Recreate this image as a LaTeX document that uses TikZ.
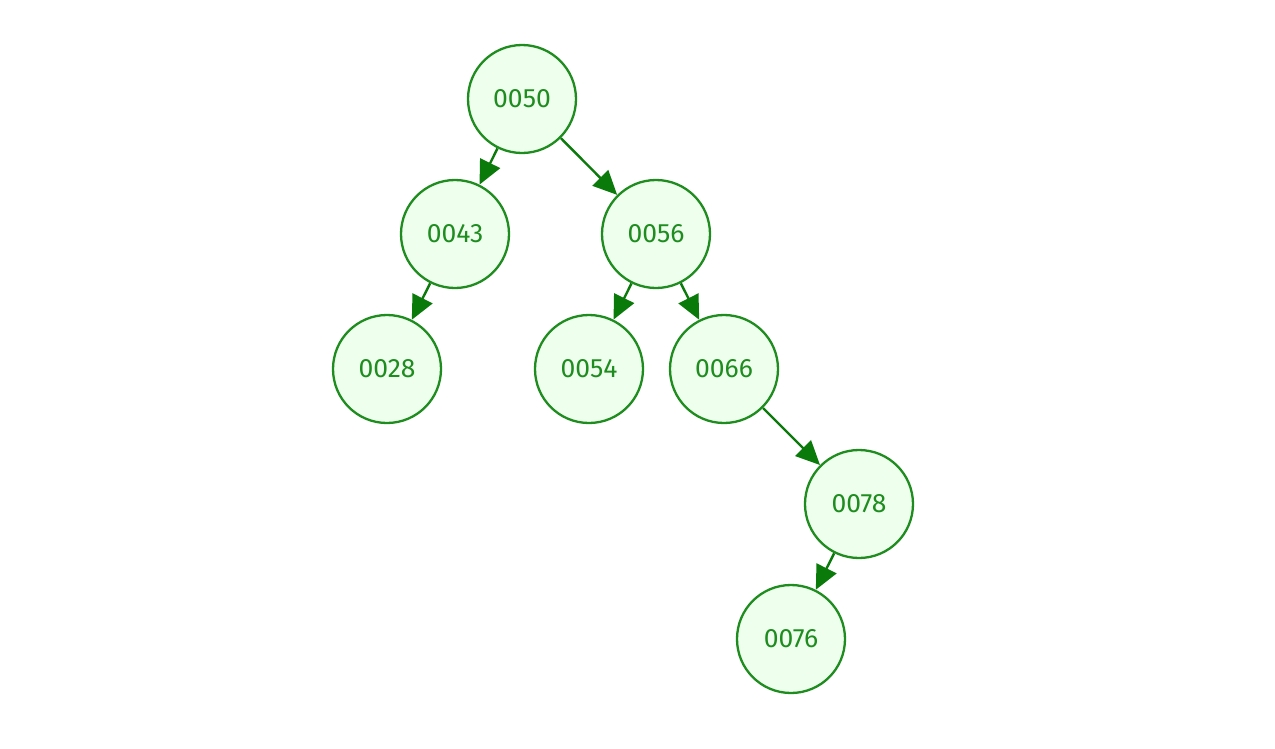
\documentclass[tikz,border=0pt]{standalone}
\usepackage{fontspec}
\setmainfont{Fira Sans}
\usetikzlibrary{arrows.meta}
\definecolor{tgreen}{HTML}{1E8C1E}
\definecolor{tfill}{HTML}{EEFFEE}
\definecolor{tarrow}{HTML}{0A7A0A}
\begin{document}
\begin{tikzpicture}[x=1pt,y=-1pt,
  tnode/.style={circle,draw=tgreen,fill=tfill,line width=2.3pt,minimum size=108pt,inner sep=0pt,text=tgreen,font=\fontsize{26.5}{28}\selectfont},
  tedge/.style={draw=tarrow,line width=2.4pt,-{Triangle[length=24pt,width=22pt]}}]
\useasboundingbox (0,0) rectangle (1275,748);
\node[tnode] (n50) at (522,99) {0050};
\node[tnode] (n43) at (455,234) {0043};
\node[tnode] (n56) at (656,234) {0056};
\node[tnode] (n28) at (387,369) {0028};
\node[tnode] (n54) at (589,369) {0054};
\node[tnode] (n66) at (724,369) {0066};
\node[tnode] (n78) at (859,504) {0078};
\node[tnode] (n76) at (791,639) {0076};
\draw[tedge] (n50) -- (n43);
\draw[tedge] (n50) -- (n56);
\draw[tedge] (n43) -- (n28);
\draw[tedge] (n56) -- (n54);
\draw[tedge] (n56) -- (n66);
\draw[tedge] (n66) -- (n78);
\draw[tedge] (n78) -- (n76);
\end{tikzpicture}
\end{document}
